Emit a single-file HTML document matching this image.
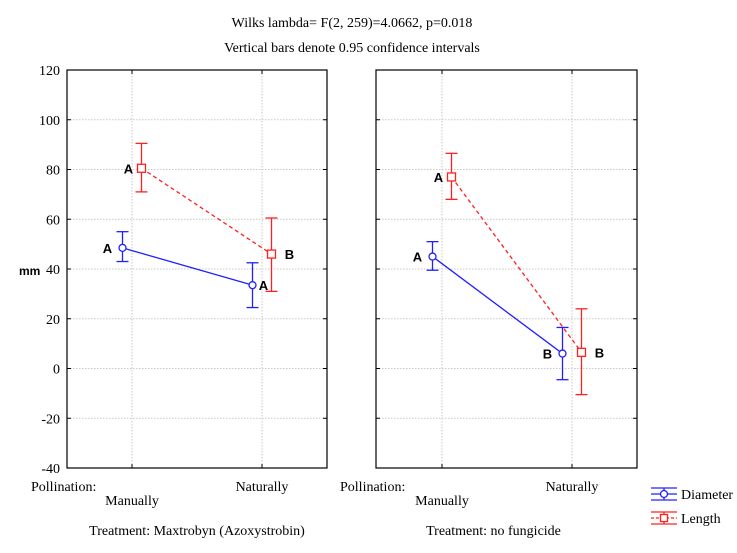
<!DOCTYPE html>
<html><head><meta charset="utf-8"><style>
body{margin:0;background:#fff;}
svg{display:block;font-family:"Liberation Serif",serif;}
.t{font-size:14px;fill:#000;}
.lt{font-family:"Liberation Sans",sans-serif;font-weight:bold;font-size:13px;}
</style></head><body>
<svg id="c" width="737" height="553" xmlns="http://www.w3.org/2000/svg">
<text x="352" y="27" text-anchor="middle" class="t">Wilks lambda= F(2, 259)=4.0662, p=0.018</text>
<text x="352" y="52" text-anchor="middle" class="t">Vertical bars denote 0.95 confidence intervals</text>
<text x="19" y="275" class="lt" style="font-size:12px">mm</text>
<g id="g"></g>
<g>
<g>
<line x1="651" y1="494" x2="677" y2="494" stroke="#2020ff" stroke-width="1.3"/>
<line x1="651" y1="488" x2="677" y2="488" stroke="#2020ff" stroke-width="1.3"/>
<line x1="651" y1="500" x2="677" y2="500" stroke="#2020ff" stroke-width="1.3"/>
<line x1="664" y1="488" x2="664" y2="500" stroke="#2020ff" stroke-width="1.3"/>
<circle cx="664" cy="494" r="3.5" fill="#fff" stroke="#2020ff" stroke-width="1.3"/>
<text x="681" y="499" class="t">Diameter</text>
</g>
<g>
<line x1="651" y1="518" x2="677" y2="518" stroke="#ff2020" stroke-width="1.3" stroke-dasharray="3,2"/>
<line x1="651" y1="512" x2="677" y2="512" stroke="#ff2020" stroke-width="1.3"/>
<line x1="651" y1="524" x2="677" y2="524" stroke="#ff2020" stroke-width="1.3"/>
<line x1="664" y1="512" x2="664" y2="524" stroke="#ff2020" stroke-width="1.3"/>
<rect x="660.5" y="514.5" width="7" height="7" fill="#fff" stroke="#ff2020" stroke-width="1.3"/>
<text x="681" y="523" class="t">Length</text>
</g>
</g>
</svg>
<script>
const categories = ["Manually","Naturally"];
const treatments = ["Treatment: Maxtrobyn (Azoxystrobin)","Treatment: no fungicide"];
const yTicks = [120,100,80,60,40,20,0,-20,-40];
const diameterMean = [[48.5,33.5],[45,6]];
const diameterLow = [[43,24.5],[39.5,-4.5]];
const diameterHigh = [[55,42.5],[51,16.5]];
const lengthMean = [[80.5,46],[77,6.5]];
const lengthLow = [[71,31],[68,-10.5]];
const lengthHigh = [[90.5,60.5],[86.5,24]];
const diameterLetters = [["A","A"],["A","B"]];
const lengthLetters = [["A","B"],["A","B"]];

const NS="http://www.w3.org/2000/svg";
const g=document.getElementById('g');
function mk(t,a,p){const e=document.createElementNS(NS,t);for(const k in a)e.setAttribute(k,a[k]);(p||g).appendChild(e);return e;}
const plotTop=70,plotBot=468,ymin=-40,ymax=120;
function y(v){return plotBot-(v-ymin)/(ymax-ymin)*(plotBot-plotTop);}
const panels=[{x0:67,x1:327,cx:[132,262]},{x0:376,x1:637,cx:[442,572]}];
function x(p,i){return panels[p].cx[i];}

panels.forEach((P,p)=>{
  const pg=mk('g',{});
  
  
  yTicks.forEach(v=>{
    const gl=mk('line',{x1:P.x0,x2:P.x1,y1:y(v),y2:y(v),stroke:'#c8c8c8','stroke-dasharray':'1.5,1.5'},pg);
    
    
    mk('line',{x1:P.x0,x2:P.x0+4,y1:y(v),y2:y(v),stroke:'#000'},pg);
    mk('line',{x1:P.x1-4,x2:P.x1,y1:y(v),y2:y(v),stroke:'#000'},pg);
    if(p===0){const t=mk('text',{x:P.x0-7,y:y(v)+5,'text-anchor':'end',class:'t'},pg);t.textContent=v;
      
      }
  });
  categories.forEach((c,i)=>{
    const gl=mk('line',{x1:x(p,i),x2:x(p,i),y1:plotTop,y2:plotBot,stroke:'#c8c8c8','stroke-dasharray':'1.5,1.5'},pg);
    
    
    mk('line',{x1:x(p,i),x2:x(p,i),y1:plotTop,y2:plotTop+4,stroke:'#000'},pg);
    mk('line',{x1:x(p,i),x2:x(p,i),y1:plotBot-4,y2:plotBot,stroke:'#000'},pg);
    const t=mk('text',{x:x(p,i),y:i===0?505:491,'text-anchor':'middle',class:'t'},pg);t.textContent=c;
    
    
  });
  const pl=mk('text',{x:P.x0-36,y:491,class:'t'},pg);pl.textContent='Pollination:';
  
  
  const tr=mk('text',{x:(P.x0+P.x1)/2-(p?13:0),y:535,'text-anchor':'middle',class:'t'},pg);tr.textContent=treatments[p];
  
  
  const bx=mk('rect',{x:P.x0,y:plotTop,width:P.x1-P.x0,height:plotBot-plotTop,fill:'none',stroke:'#000','stroke-width':1.2},pg);
  
  

  const series=[
    {m:diameterMean,lo:diameterLow,hi:diameterHigh,L:diameterLetters,col:'#2020ff',off:-9.5,dash:null,name:'diameter'},
    {m:lengthMean,lo:lengthLow,hi:lengthHigh,L:lengthLetters,col:'#ff2020',off:9.5,dash:'4,3',name:'length'}];
  series.forEach(s=>{
    const ln=mk('line',{x1:x(p,0)+s.off,y1:y(s.m[p][0]),x2:x(p,1)+s.off,y2:y(s.m[p][1]),stroke:s.col,'stroke-width':1.3},pg);
    if(s.dash)ln.setAttribute('stroke-dasharray',s.dash);
    
    
    categories.forEach((c,i)=>{
      const cx=x(p,i)+s.off;
      const eb=mk('g',{stroke:s.col,'stroke-width':1.3},pg);
      
      
      mk('line',{x1:cx,x2:cx,y1:y(s.lo[p][i]),y2:y(s.hi[p][i])},eb);
      mk('line',{x1:cx-6,x2:cx+6,y1:y(s.lo[p][i]),y2:y(s.lo[p][i])},eb);
      mk('line',{x1:cx-6,x2:cx+6,y1:y(s.hi[p][i]),y2:y(s.hi[p][i])},eb);
      let pt;
      if(s.name==='diameter')pt=mk('circle',{cx:cx,cy:y(s.m[p][i]),r:3.5,fill:'#fff',stroke:s.col,'stroke-width':1.3},pg);
      else pt=mk('rect',{x:cx-4,y:y(s.m[p][i])-4,width:8,height:8,fill:'#fff',stroke:s.col,'stroke-width':1.3},pg);
      
      
      let lx;
      if(i===0) lx=cx-(s.name==='diameter'?15:13);
      else if(s.name==='length') lx=cx+18;
      else lx=(p===0)?cx+11:cx-15;
      const t=mk('text',{x:lx,y:y(s.m[p][i])+5,'text-anchor':'middle',class:'lt'},pg);
      t.textContent=s.L[p][i];
      
      
    });
  });
});
</script>
</body></html>
